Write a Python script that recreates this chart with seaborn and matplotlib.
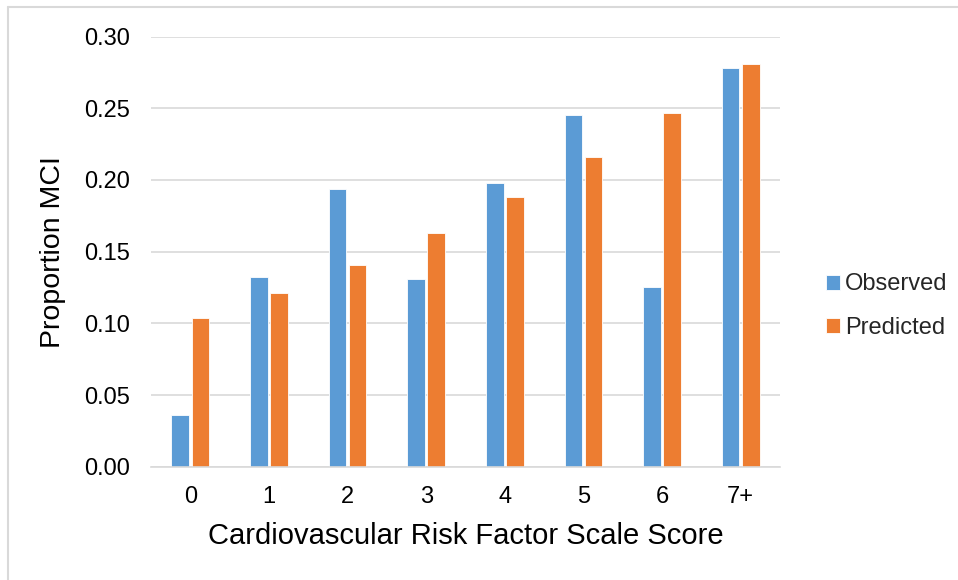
import matplotlib
matplotlib.use("Agg")
import matplotlib.pyplot as plt
import seaborn as sns
import pandas as pd

categories = ["0", "1", "2", "3", "4", "5", "6", "7+"]
observed = [0.036, 0.132, 0.194, 0.131, 0.198, 0.245, 0.125, 0.278]
predicted = [0.104, 0.121, 0.141, 0.163, 0.188, 0.216, 0.247, 0.281]
series_names = ["Observed", "Predicted"]
yticks = [0.00, 0.05, 0.10, 0.15, 0.20, 0.25, 0.30]

df = pd.DataFrame({
    "Score": categories * 2,
    "Value": observed + predicted,
    "Series": [series_names[0]] * len(categories) + [series_names[1]] * len(categories),
})

sns.set_theme(style="white")
plt.rcParams["font.family"] = ["Liberation Sans", "DejaVu Sans"]

fig = plt.figure(figsize=(9.58, 5.80), dpi=100)
ax = fig.add_axes([151/958, 1 - 466.7/580, (780-151)/958, (466.7-36.5)/580])

sns.barplot(data=df, x="Score", y="Value", hue="Series", order=categories,
            hue_order=series_names, palette=["#5B9BD5", "#ED7D31"],
            width=0.51, gap=0.12, edgecolor="white", linewidth=0.6, ax=ax,
            saturation=1)

ax.set_ylim(0, 0.30)
ax.set_xlim(-0.5, len(categories) - 0.5)
ax.set_yticks(yticks)
ax.set_yticklabels([f"{v:.2f}" for v in yticks])
ax.yaxis.grid(True, color="#D9D9D9", linewidth=1.2)
ax.set_axisbelow(True)
for s in ["top", "right", "left"]:
    ax.spines[s].set_visible(False)
ax.spines["bottom"].set_color("#D9D9D9")
ax.spines["bottom"].set_linewidth(1.2)
ax.tick_params(axis="both", length=0, labelsize=17, colors="#000000")
ax.tick_params(axis="y", pad=15)
ax.tick_params(axis="x", pad=14)

ax.set_xlabel("Cardiovascular Risk Factor Scale Score", fontsize=21, labelpad=10, color="#000000")
ax.set_ylabel("Proportion MCI", fontsize=20.5, labelpad=13, color="#000000")

handles, labels = ax.get_legend_handles_labels()
ax.legend(handles, labels, frameon=False, loc="center left",
          bbox_to_anchor=(826/958, 1 - 306/580), bbox_transform=fig.transFigure,
          fontsize=17, handlelength=0.6, handleheight=0.6, handletextpad=0.2,
          labelspacing=0.9, borderaxespad=0, borderpad=0)

# outer chart-area border (top and left visible)
fig.add_artist(plt.Line2D([8/958, 8/958], [0, 1 - 7/580], transform=fig.transFigure,
                          color="#D9D9D9", linewidth=1.5))
fig.add_artist(plt.Line2D([8/958, 1], [1 - 7/580, 1 - 7/580], transform=fig.transFigure,
                          color="#D9D9D9", linewidth=1.5))

fig.savefig("out.png", dpi=100)
